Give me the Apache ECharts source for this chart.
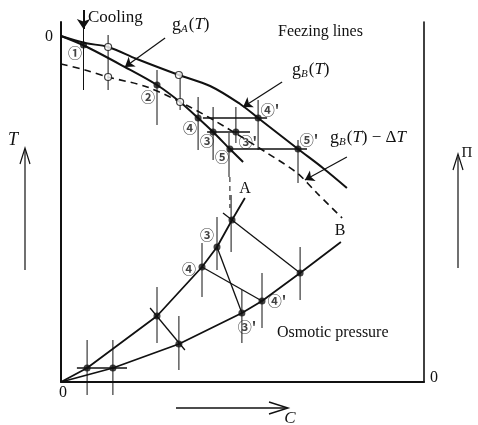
<!DOCTYPE html>
<html><head><meta charset="utf-8">
<script src="https://cdn.jsdelivr.net/npm/echarts@6/dist/echarts.min.js"></script>
<style>html,body{margin:0;padding:0;background:#fff}#c{width:478px;height:425px}</style>
</head><body><div id="c"></div>
<script>
// ---- Freezing lines (x: concentration C, y: temperature T, arbitrary units) ----
const gB      = [[0,0],[8,-3.5],[15.7,-5.5],[25.3,-11.5],[39.3,-19.5],[49.7,-25],[59.7,-34],[65.7,-41],[79,-56.5],[87.3,-66],[95.3,-76]];
const gA      = [[0,0],[8,-5],[21.3,-15.5],[32,-24.5],[39.7,-33],[45.7,-41],[50.7,-48],[56.3,-56.5],[60.7,-63]];
const gBminus = [[0,-14],[8,-17],[15.7,-20.5],[28.7,-25.5],[43,-35.5],[55.3,-46],[68.7,-58.5],[78.7,-68.5],[85.3,-78.5],[93.7,-91]];
const freezePoints = [[7.5,-4.5],[32,-24.5],[45.7,-41],[50.7,-48],[56.3,-56.5],[65.7,-41],[58.3,-48],[79,-56.5]];
const openCircles  = [[15.7,-5.5],[15.7,-20.5],[39.3,-19.5],[39.7,-33]];
const freezeTies   = [[[47.3,-41],[68.7,-41]],[[48.7,-48],[63,-48]],[[56.3,-56.5],[82,-56.5]]];
const freezeVerticals = [[7.5,12,-27],[15.7,0.5,-27],[32,-17,-44.5],[39.7,-18,-37],[45.7,-30.5,-57],[50.7,-35.5,-62],[56,-48.5,-70.5],[58.3,-35.5,-53.5],[65.7,-32,-57],[79,-52,-73.5]];
const freezeDashedDrop = [[56.3,-70.5,-86]];
const freezeLabels = [['①',4.7,-8.5],['②',29,-30.5],['④',43,-46],['③',48.7,-52.5],['⑤',53.7,-60.5],["③'",62.3,-53],["④'",69.7,-37],["⑤'",82.7,-52]];
// ---- Osmotic pressure (x: C, y: Π) ----
const curveA = [[0,0],[8.7,7],[32,33],[47,57.5],[52,67.5],[57,81],[61.3,92]];
const curveB = [[0,0],[17.3,7],[39.3,19],[60.3,34.5],[67,40.5],[79.7,54.5],[93.3,70]];
const osmoPoints = [[8.7,7],[17.3,7],[32,33],[39.3,19],[47,57.5],[52,67.5],[57,81],[60.3,34.5],[67,40.5],[79.7,54.5]];
const osmoTies = [[[5.3,7],[22,7]],[[29.7,37],[41.3,16]],[[47,57.5],[67,40.5]],[[52,67.5],[60.3,34.5]],[[54,84.5],[79.7,54.5]]];
const osmoVerticals = [[8.7,21,-6.5],[17.3,21,-6.5],[32,47.5,19.5],[39.3,33,6],[47,69.5,42.5],[52,82.5,56],[56.7,93.5,65],[79.7,67.5,41],[67,54.5,27],[60.3,46,19.5]];
const osmoLabels = [['③',48.7,73.5],['④',42.7,56.5],["④'",72,40.5],["③'",62,27.5]];
// ---- annotation arrows (T axis units) ----
const annArrows = [[[34.7,-1],[21.3,-15.5]],[[73.7,-23],[60.7,-35.5]],[[95.3,-60.5],[81.3,-72]]];
const coolingArrow = [[[7.5,13],[7.5,3.5]]];

const serif = "'Liberation Serif','DejaVu Serif',serif";
const cjk = "'Noto Sans CJK JP','DejaVu Sans',sans-serif";
const ink = '#111';

const series = [];
function seg(p, q, yi, w, type) {
  series.push({type:'line', yAxisIndex:yi, data:[p,q], symbol:'none', clip:false, silent:true,
    lineStyle:{color:ink, width:w, type:type||'solid'}, z:2});
}
series.push({type:'line', yAxisIndex:0, data:gB, smooth:0.35, symbol:'none', clip:false, lineStyle:{color:ink,width:2}, z:3});
series.push({type:'line', yAxisIndex:0, data:gA, smooth:0.3, symbol:'none', clip:false, lineStyle:{color:ink,width:2}, z:3});
series.push({type:'line', yAxisIndex:0, data:gBminus, smooth:0.3, symbol:'none', clip:false, lineStyle:{color:ink,width:1.6,type:[7,5]}, z:3});
series.push({type:'line', yAxisIndex:1, data:curveA, symbol:'none', clip:false, lineStyle:{color:ink,width:1.8}, z:3});
series.push({type:'line', yAxisIndex:1, data:curveB, symbol:'none', clip:false, lineStyle:{color:ink,width:1.8}, z:3});
freezeVerticals.forEach(v => seg([v[0],v[1]],[v[0],v[2]],0,1));
freezeDashedDrop.forEach(v => seg([v[0],v[1]],[v[0],v[2]],0,1,[5,4]));
freezeTies.forEach(t => seg(t[0],t[1],0,1.3));
osmoVerticals.forEach(v => seg([v[0],v[1]],[v[0],v[2]],1,1));
osmoTies.forEach(t => seg(t[0],t[1],1,1.3));
series.push({type:'scatter', yAxisIndex:0, data:freezePoints, symbolSize:7, itemStyle:{color:ink}, z:6, silent:true});
series.push({type:'scatter', yAxisIndex:0, data:openCircles, symbolSize:7, itemStyle:{color:'#fff',borderColor:ink,borderWidth:1.2}, z:6, silent:true});
series.push({type:'scatter', yAxisIndex:1, data:osmoPoints, symbolSize:7, itemStyle:{color:ink}, z:6, silent:true});
const lab = {show:true, position:'inside', formatter:'{b}', fontFamily:cjk, fontSize:14, fontWeight:'bold', color:ink};
series.push({type:'scatter', yAxisIndex:0, symbolSize:1, itemStyle:{color:'rgba(0,0,0,0)'}, data:freezeLabels.map(l=>({name:l[0],value:[l[1],l[2]]})), label:lab, z:7, silent:true});
series.push({type:'scatter', yAxisIndex:1, symbolSize:1, itemStyle:{color:'rgba(0,0,0,0)'}, data:osmoLabels.map(l=>({name:l[0],value:[l[1],l[2]]})), label:lab, z:7, silent:true});
series.push({type:'lines', coordinateSystem:'cartesian2d', xAxisIndex:0, yAxisIndex:0, clip:false, silent:true,
  symbol:['none','arrow'], symbolSize:9, lineStyle:{color:ink,width:1.2,opacity:1}, data:annArrows.map(a=>({coords:a})), z:4});
series.push({type:'lines', coordinateSystem:'cartesian2d', xAxisIndex:0, yAxisIndex:0, clip:false, silent:true,
  symbol:['none','arrow'], symbolSize:10, lineStyle:{color:ink,width:2,opacity:1}, data:coolingArrow.map(a=>({coords:a})), z:4});

function txt(text, x, y, size, opt) {
  opt = opt || {};
  return {type:'text', x:x, y:y, silent:true, z:10, style:Object.assign({text:text, fill:ink,
    font:(opt.italic?'italic ':'') + size + 'px ' + serif, textAlign:opt.align||'left', textVerticalAlign:'middle'}, opt.style||{})};
}
function gLabel(sub, tail, x, y) {
  return {type:'text', x:x, y:y, silent:true, z:10, style:{
    text:'{g|g}{s|' + sub + '}{n|(}{i|T}{n|)' + (tail||'') + '}{i|' + (tail?'T':'') + '}',
    textVerticalAlign:'middle', fill:ink,
    rich:{g:{fontSize:18,fontFamily:serif,fill:ink}, s:{fontSize:11,fontFamily:serif,fontStyle:'italic',padding:[8,1,0,0],fill:ink},
          n:{fontSize:17,fontFamily:serif,fill:ink}, i:{fontSize:17,fontFamily:serif,fontStyle:'italic',fill:ink}}}};
}
const graphic = [
  txt('Cooling', 88, 18, 17),
  gLabel('A', '', 172, 25),
  txt('Feezing lines', 278, 32, 16),
  gLabel('B', '', 292, 70),
  gLabel('B', ' − Δ', 330, 138),
  txt('A', 245, 189, 16, {align:'center'}),
  txt('B', 340, 231, 16, {align:'center'}),
  txt('Osmotic pressure', 277, 333, 16),
  txt('T', 13, 140, 18, {italic:true, align:'center'}),
  txt('Π', 467, 153, 15, {align:'center'}),
  txt('C', 290, 419, 17, {italic:true, align:'center'}),
  txt('0', 49, 37, 16, {align:'center'}),
  txt('0', 63, 393, 16, {align:'center'}),
  txt('0', 434, 378, 16, {align:'center'}),
  {type:'line', shape:{x1:25,y1:270,x2:25,y2:150}, style:{stroke:ink,lineWidth:1.2}, silent:true},
  {type:'polyline', shape:{points:[[20,164],[25,148],[30,164]]}, style:{stroke:ink,lineWidth:1.2,fill:null}, silent:true},
  {type:'line', shape:{x1:458,y1:268,x2:458,y2:157}, style:{stroke:ink,lineWidth:1.2}, silent:true},
  {type:'polyline', shape:{points:[[453,170],[458,154],[463,170]]}, style:{stroke:ink,lineWidth:1.2,fill:null}, silent:true},
  {type:'line', shape:{x1:176,y1:408,x2:286,y2:408}, style:{stroke:ink,lineWidth:1.4}, silent:true},
  {type:'polyline', shape:{points:[[269,402],[288,408],[269,414]]}, style:{stroke:ink,lineWidth:1.4,fill:null}, silent:true}
];

const chart = echarts.init(document.getElementById('c'), null, {renderer:'canvas'});
chart.setOption({
  animation:false,
  backgroundColor:'#fff',
  grid:{left:61, right:54, top:22, bottom:43, containLabel:false},
  xAxis:{type:'value', min:0, max:121, axisLine:{show:true,onZero:false,lineStyle:{color:ink,width:2}},
    axisTick:{show:false}, axisLabel:{show:false}, splitLine:{show:false}},
  yAxis:[
    {type:'value', min:-173, max:7, position:'left', axisLine:{show:true,onZero:false,lineStyle:{color:ink,width:2}},
      axisTick:{show:false}, axisLabel:{show:false}, splitLine:{show:false}},
    {type:'value', min:0, max:180, position:'right', axisLine:{show:true,onZero:false,lineStyle:{color:ink,width:1.6}},
      axisTick:{show:false}, axisLabel:{show:false}, splitLine:{show:false}}
  ],
  series:series,
  graphic:graphic
});
</script></body></html>
